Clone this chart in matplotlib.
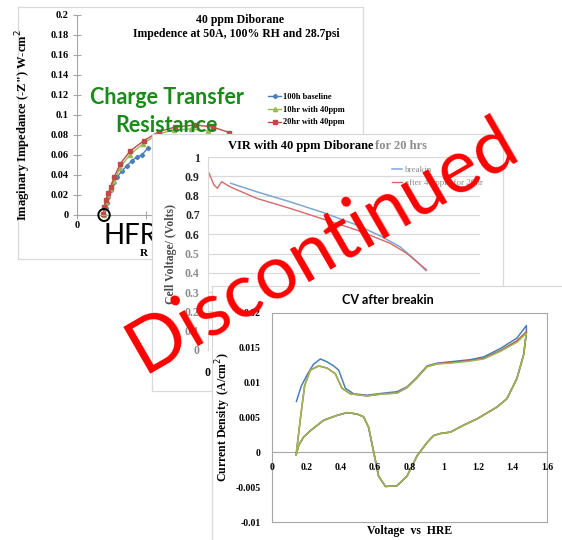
import matplotlib
matplotlib.use("Agg")
import matplotlib.pyplot as plt
from matplotlib.patches import Ellipse

# ---------------- data ----------------
# Impedance (Nyquist) spectra: real part (ohm-cm2) vs -imaginary part
imp_base_re = [0.0396, 0.0416, 0.0430, 0.0454, 0.0488, 0.0526, 0.0584, 0.0648,
               0.0720, 0.0793, 0.0874, 0.0937, 0.1019]
imp_base_im = [0.0000, 0.0067, 0.0117, 0.0183, 0.0250, 0.0317, 0.0383, 0.0440,
               0.0490, 0.0543, 0.0583, 0.0600, 0.0667]
imp_10h_re = [0.0385, 0.0400, 0.0420, 0.0450, 0.0490, 0.0540, 0.0620, 0.0760,
              0.0950, 0.1170, 0.1400, 0.1650, 0.1900]
imp_10h_im = [0.0000, 0.0070, 0.0130, 0.0200, 0.0260, 0.0340, 0.0470, 0.0600,
              0.0710, 0.0810, 0.0850, 0.0860, 0.0840]
imp_20h_re = [0.0381, 0.0396, 0.0416, 0.0454, 0.0488, 0.0536, 0.0623, 0.0768,
              0.0961, 0.1178, 0.1420, 0.1710, 0.1960, 0.2200]
imp_20h_im = [0.0010, 0.0083, 0.0150, 0.0217, 0.0283, 0.0377, 0.0510, 0.0640,
              0.0740, 0.0833, 0.0880, 0.0900, 0.0880, 0.0825]
imp_labels = ["100h baseline", "10hr with 40ppm", "20hr with 40ppm"]

# Polarisation (VIR) curves: current density vs cell voltage
vir_break_i = [0.133, 0.286, 0.482, 0.678, 0.874, 1.012, 1.129, 1.208, 1.282]
vir_break_v = [0.864, 0.820, 0.768, 0.712, 0.648, 0.592, 0.535, 0.475, 0.411]
vir_after_i = [0.002, 0.035, 0.055, 0.080, 0.129, 0.286, 0.482, 0.678, 0.874,
               1.071, 1.169, 1.286]
vir_after_v = [0.924, 0.855, 0.838, 0.872, 0.846, 0.786, 0.734, 0.678, 0.622,
               0.553, 0.501, 0.415]
vir_labels = ["breakin", "after 40 ppm for 20hr"]

# Cyclic voltammetry after break-in (three cycles)
cv_rev_v = [1.480, 1.464, 1.425, 1.367, 1.309, 1.193, 1.115, 1.038, 0.979, 0.940,
            0.902, 0.844, 0.786, 0.727, 0.660, 0.620, 0.592, 0.562, 0.533, 0.495,
            0.436, 0.378, 0.300, 0.223, 0.184, 0.155, 0.140]
cv_rev_i = [0.0171, 0.0140, 0.0106, 0.0077, 0.0065, 0.0048, 0.0039, 0.0029, 0.0027,
            0.0024, 0.0014, -0.0005, -0.0034, -0.0048, -0.0049, -0.0034, 0.0000,
            0.0036, 0.0051, 0.0055, 0.0057, 0.0053, 0.0046, 0.0031, 0.0022, 0.0010,
            -0.0004]
cv1_fwd_v = [0.142, 0.170, 0.204, 0.240, 0.281, 0.320, 0.359, 0.388, 0.427, 0.475,
             0.553, 0.650, 0.727, 0.786, 0.844, 0.902, 0.960, 1.038, 1.154, 1.232,
             1.329, 1.425, 1.480]
cv1_fwd_i = [0.0073, 0.0095, 0.0111, 0.0126, 0.0134, 0.0130, 0.0124, 0.0118, 0.0092,
             0.0084, 0.0082, 0.0085, 0.0087, 0.0094, 0.0108, 0.0124, 0.0128, 0.0130,
             0.0133, 0.0137, 0.0149, 0.0164, 0.0182]
cv2_fwd_v = [0.140, 0.165, 0.190, 0.223, 0.272, 0.320, 0.368, 0.407, 0.456, 0.553,
             0.650, 0.727, 0.786, 0.844, 0.902, 0.960, 1.038, 1.154, 1.232, 1.329,
             1.425, 1.480]
cv2_fwd_i = [-0.0004, 0.0048, 0.0096, 0.0118, 0.0124, 0.0121, 0.0113, 0.0092, 0.0084,
             0.0081, 0.0084, 0.0085, 0.0093, 0.0107, 0.0123, 0.0127, 0.0129, 0.0132,
             0.0135, 0.0146, 0.0160, 0.0173]
cv3_fwd_i = [-0.0004, 0.0048, 0.0096, 0.0118, 0.0124, 0.0121, 0.0113, 0.0092, 0.0084,
             0.0081, 0.0084, 0.0085, 0.0093, 0.0107, 0.0123, 0.0127, 0.0128, 0.0131,
             0.0134, 0.0145, 0.0158, 0.0171]

BLUE, RED, GREEN = "#4a7ebb", "#be4b48", "#98b954"
SERIF = ["Liberation Serif", "DejaVu Serif"]
SANS = ["Lato", "DejaVu Sans"]
GRID = "#d9d9d9"
AX = "#a6a6a6"

W, H = 562, 540
fig = plt.figure(figsize=(W / 100, H / 100), dpi=100)


def rect(x0, y0, x1, y1):
    return [x0 / W, 1 - y1 / H, (x1 - x0) / W, (y1 - y0) / H]


def panel(x0, y0, x1, y1, z):
    a = fig.add_axes(rect(x0, y0, x1, y1), zorder=z)
    a.set_facecolor("white")
    a.set_xticks([])
    a.set_yticks([])
    for s in a.spines.values():
        s.set_color(GRID)
        s.set_linewidth(0.9)
    return a


# ---------------- impedance chart ----------------
panel(18, 7, 363, 259, 1)
ax1 = fig.add_axes(rect(77, 15, 250, 215), zorder=2)
ax1.set_facecolor("none")
ax1.set_xlim(0, 0.25)
ax1.set_ylim(0, 0.2)
for s in ("top", "right"):
    ax1.spines[s].set_visible(False)
for s in ("left", "bottom"):
    ax1.spines[s].set_color(AX)
    ax1.spines[s].set_linewidth(0.8)
yt = [i * 0.02 for i in range(11)]
ax1.set_yticks(yt)
ax1.set_yticklabels(["0", "0.02", "0.04", "0.06", "0.08", "0.1", "0.12", "0.14",
                     "0.16", "0.18", "0.2"], fontfamily=SERIF, fontweight="bold",
                    fontsize=7.5)
ax1.set_xticks([0, 0.1, 0.2])
ax1.set_xticklabels(["0", "", ""], fontfamily=SERIF, fontweight="bold",
                    fontsize=7.5)
ax1.tick_params(direction="inout", length=6, color=AX, width=0.8, pad=3)
ax1.tick_params(axis="x", pad=1)
ax1.plot(imp_base_re, imp_base_im, color=BLUE, lw=1.0, marker="D", ms=2.2,
         label=imp_labels[0], clip_on=False)
ax1.plot(imp_10h_re, imp_10h_im, color=GREEN, lw=1.0, marker="^", ms=3,
         label=imp_labels[1], clip_on=False)
ax1.plot(imp_20h_re, imp_20h_im, color=RED, lw=1.0, marker="s", ms=3,
         label=imp_labels[2], clip_on=False)
ax1.set_ylabel("Imaginary Impedance (-Z\") W-cm$^{2}$", fontfamily=SERIF,
               fontweight="bold", fontsize=9)
ax1.yaxis.set_label_coords(-0.255, 0.45)
ax1.text(0.0905, -0.0385, "R", fontfamily=SERIF, fontweight="bold", fontsize=8,
         ha="left", va="center")
fig.text(240 / W, 1 - 20 / H, "40 ppm Diborane", fontfamily=SERIF,
         fontweight="bold", fontsize=8.5, ha="center", va="center")
fig.text(236 / W, 1 - 34 / H, "Impedence at 50A, 100% RH and 28.7psi",
         fontfamily=SERIF, fontweight="bold", fontsize=8.5, ha="center",
         va="center")
ax1.legend(loc="upper left", bbox_to_anchor=((265 - 77) / 173, (215 - 90) / 200),
           frameon=False, prop={"family": SERIF, "weight": "bold", "size": 6},
           handlelength=1.5, handletextpad=0.3, labelspacing=0.55,
           borderaxespad=0)
# annotations on the impedance chart
ax1.add_patch(Ellipse((0.0391, 0.0), 0.0165, 0.012, fill=False, lw=1.4,
                      color="black", clip_on=False, zorder=5))
ax1.text(0.1295, 0.118, "Charge Transfer", color="#1a8a1a", fontfamily=SANS,
         fontweight="bold", fontsize=15.5, ha="center", va="center", zorder=6)
ax1.text(0.1295, 0.090, "Resistance", color="#1a8a1a", fontfamily=SANS,
         fontweight="bold", fontsize=15.5, ha="center", va="center", zorder=6)
ax1.text(0.039, -0.0215, "HFR", color="black", fontfamily=SANS, fontsize=20,
         ha="left", va="center", zorder=6, clip_on=False)

# ---------------- VIR chart ----------------
panel(152, 134, 503, 391, 3)
ax2 = fig.add_axes(rect(208, 157, 480, 350), zorder=4)
ax2.set_facecolor("none")
ax2.set_xlim(0, 1.6)
ax2.set_ylim(0, 1.0)
for s in ("top", "right", "bottom"):
    ax2.spines[s].set_visible(False)
ax2.spines["left"].set_color(GRID)
vt = [i / 10 for i in range(11)]
ax2.set_yticks(vt)
ax2.set_yticklabels(["0", "0.1", "0.2", "0.3", "0.4", "0.5", "0.6", "0.7",
                     "0.8", "0.9", "1"], fontfamily=SERIF, fontweight="bold",
                    fontsize=8.5)
for lab, v in zip(ax2.get_yticklabels(), vt):
    lab.set_color("#262626" if v >= 0.6 else "#8c8c8c")
ax2.set_xticks([0, 0.4, 0.8, 1.2, 1.6])
ax2.set_xticklabels(["0", "0.4", "0.8", "1.2", "1.6"], fontfamily=SERIF,
                    fontweight="bold", fontsize=8.5)
ax2.tick_params(length=0, pad=6)
ax2.tick_params(axis="x", pad=12)
ax2.grid(axis="y", color=GRID, lw=0.9)
ax2.plot(vir_break_i, vir_break_v, color="#7ea6d4", lw=1.1, label=vir_labels[0])
ax2.plot(vir_after_i, vir_after_v, color="#d46a6a", lw=1.0, label=vir_labels[1])
ax2.set_ylabel("Cell Voltage/ (Volts)", fontfamily=SERIF, fontweight="bold",
               fontsize=8.5, color="#4d4d4d", labelpad=6)
fig.text(228 / W, 1 - 146 / H, "VIR with 40 ppm Diborane", fontfamily=SERIF,
         fontweight="bold", fontsize=9, ha="left", va="center", zorder=4.5)
fig.text(375 / W, 1 - 146 / H, "for 20 hrs", fontfamily=SERIF, color="#8c8c8c",
         fontweight="bold", fontsize=9, ha="left", va="center", zorder=4.5)
ax2.legend(loc="upper left", bbox_to_anchor=((388 - 208) / 272, (350 - 162) / 193),
           frameon=False, prop={"family": SERIF, "size": 6.5},
           handlelength=1.2, handletextpad=0.3, labelspacing=0.5,
           borderaxespad=0, labelcolor="#8c8c8c")

# ---------------- CV chart ----------------
panel(212, 286, 575, 560, 5)
ax3 = fig.add_axes(rect(272, 313, 547, 522), zorder=6)
ax3.set_facecolor("white")
ax3.set_xlim(0, 1.6)
ax3.set_ylim(-0.01, 0.02)
for s in ax3.spines.values():
    s.set_color(AX)
    s.set_linewidth(0.8)
ax3.axhline(0, color=AX, lw=0.8)
ct = [-0.01, -0.005, 0, 0.005, 0.01, 0.015, 0.02]
ax3.set_yticks(ct)
ax3.set_yticklabels(["-0.01", "-0.005", "0", "0.005", "0.01", "0.015", "0.02"],
                    fontfamily=SERIF, fontweight="bold", fontsize=7)
ax3.set_xticks([])
ax3.tick_params(length=0, pad=8)
for v, s in zip([0, 0.2, 0.4, 0.6, 0.8, 1.0, 1.2, 1.4, 1.6],
                ["0", "0.2", "0.4", "0.6", "0.8", "1", "1.2", "1.4", "1.6"]):
    ax3.text(v, -0.0022, s, fontfamily=SERIF, fontweight="bold", fontsize=7,
             ha="center", va="center")
ax3.plot(cv1_fwd_v + cv_rev_v, cv1_fwd_i + cv_rev_i, color=BLUE, lw=1.1)
ax3.plot(cv2_fwd_v + cv_rev_v, cv2_fwd_i + [v + 0.0002 if i == 0 else v
                                            for i, v in enumerate(cv_rev_i)],
         color=RED, lw=1.1)
ax3.plot(cv2_fwd_v + cv_rev_v, cv3_fwd_i + cv_rev_i, color=GREEN, lw=1.1)
ax3.set_xlabel("Voltage  vs  HRE", fontfamily=SERIF, fontweight="bold",
               fontsize=8.5, labelpad=2)
ax3.set_ylabel("Current Density  (A/cm$^{2}$)", fontfamily=SERIF,
               fontweight="bold", fontsize=8.5, labelpad=2)
fig.text(388 / W, 1 - 300 / H, "CV after breakin", fontfamily=SANS,
         fontweight="bold", fontsize=9, ha="center", va="center", zorder=6.5)

# ---------------- stamp ----------------
fig.text(322 / W, 1 - 246 / H, "Discontinued", color="#ff0000", fontfamily=SANS,
         fontsize=54, rotation=30, rotation_mode="anchor", ha="center",
         va="center", zorder=20)

fig.savefig("out.png", dpi=100)
